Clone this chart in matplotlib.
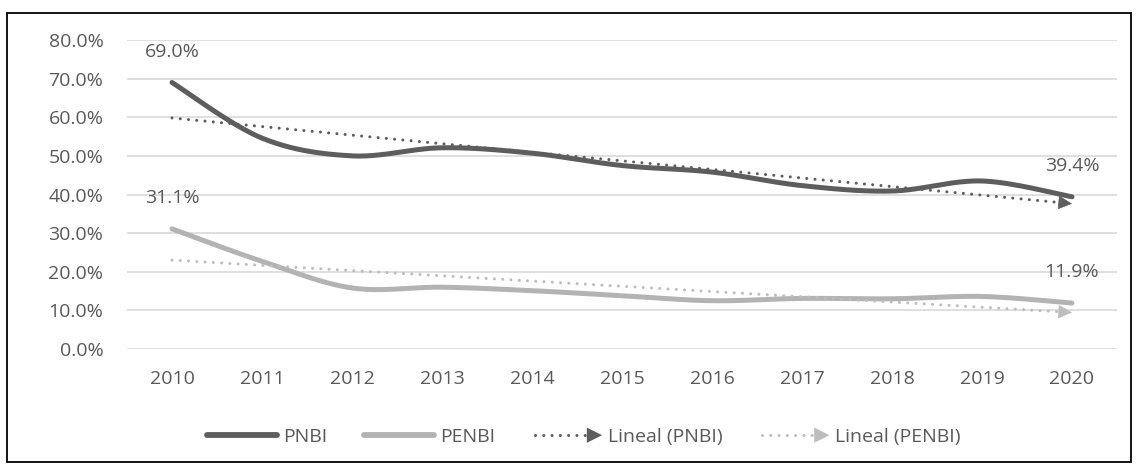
import numpy as np
import matplotlib
matplotlib.use("Agg")
import matplotlib.pyplot as plt
from matplotlib.lines import Line2D
from matplotlib.patches import Polygon, Rectangle
from matplotlib.legend_handler import HandlerBase
from matplotlib.ticker import FuncFormatter

# ---- data ----
years = ["2010", "2011", "2012", "2013", "2014", "2015", "2016", "2017", "2018", "2019", "2020"]
pnbi = [69.0, 54.6, 50.0, 52.1, 50.7, 47.5, 45.8, 42.3, 40.9, 43.5, 39.4]
penbi = [31.1, 22.7, 15.8, 16.0, 15.1, 13.8, 12.5, 13.1, 13.0, 13.6, 11.9]
y_ticks = [0, 10, 20, 30, 40, 50, 60, 70, 80]

DARK = "#5d5d5d"
LIGHT = "#b3b3b3"
LIGHT_TREND = "#bdbdbd"
TEXT = "#595959"
GRID = "#d9d9d9"

plt.rcParams['font.family'] = ['Open Sans', 'DejaVu Sans']
FS = 14


def smooth(xs, ys, n=40):
    """Excel-style smoothed line (Catmull-Rom Bezier)."""
    P = np.column_stack([xs, ys]).astype(float)
    P = np.vstack([P[0], P, P[-1]])
    out = []
    t = np.linspace(0, 1, n)[:, None]
    for i in range(1, len(P) - 2):
        p0, p1, p2, p3 = P[i - 1], P[i], P[i + 1], P[i + 2]
        c1 = p1 + (p2 - p0) / 6
        c2 = p2 - (p3 - p1) / 6
        seg = ((1 - t) ** 3) * p1 + 3 * ((1 - t) ** 2) * t * c1 + 3 * (1 - t) * t ** 2 * c2 + t ** 3 * p2
        out.append(seg if i == 1 else seg[1:])
    out = np.vstack(out)
    return out[:, 0], out[:, 1]


fig = plt.figure(figsize=(11.39, 4.68), dpi=100)
ax = fig.add_axes([127 / 1139, 1 - 349 / 468, (1117 - 127) / 1139, (349 - 40) / 468])

x = np.arange(len(years))
DOT = (0, (0.01, 2.7))

# trend lines (linear regression)
for vals, col in [(pnbi, DARK), (penbi, LIGHT_TREND)]:
    k, b = np.polyfit(x, vals, 1)
    ty = k * x + b
    ax.plot(x[[0, -1]] + np.array([0, -0.08]), [ty[0], ty[-1] - k * 0.08], color=col,
            lw=2.2, linestyle=DOT, dash_capstyle='round', zorder=4)
    ax.annotate('', xy=(x[-1], ty[-1]), xytext=(x[-1] - 0.12, ty[-1] - k * 0.12),
                arrowprops=dict(arrowstyle='-|>,head_length=0.9,head_width=0.45',
                                color=col, lw=0.5, shrinkA=0, shrinkB=0), zorder=4)

# main smoothed lines
for vals, col in [(pnbi, DARK), (penbi, LIGHT)]:
    sx, sy = smooth(x, vals)
    ax.plot(sx, sy, color=col, lw=3.6, solid_capstyle='round', zorder=3)

# data labels
for vals in (pnbi, penbi):
    for i in (0, len(vals) - 1):
        ax.annotate(f"{vals[i]:.1f}%", xy=(x[i], vals[i]), xytext=(0, 22),
                    textcoords='offset points', ha='center', va='center',
                    fontsize=FS, color=TEXT, zorder=5)

ax.set_xlim(-0.5, len(years) - 0.5)
ax.set_ylim(0, 80)
ax.set_yticks(y_ticks)
ax.yaxis.set_major_formatter(FuncFormatter(lambda v, p: f"{v:.1f}%"))
ax.set_xticks(x)
ax.set_xticklabels(years)
ax.tick_params(axis='both', length=0, labelsize=FS, labelcolor=TEXT)
ax.tick_params(axis='y', pad=17)
ax.tick_params(axis='x', pad=15)
ax.grid(axis='y', color=GRID, lw=1.2)
ax.set_axisbelow(True)
for s in ax.spines.values():
    s.set_visible(False)


class HandlerArrowLine(HandlerBase):
    def create_artists(self, legend, orig_handle, xdescent, ydescent, width, height, fontsize, trans):
        y = height / 2 - ydescent
        x0 = -xdescent
        x1 = width - xdescent
        hl = 11
        hw = 5.5
        line = Line2D([x0 + 2, x1 - hl], [y, y], color=orig_handle.get_color(),
                      lw=2.2, linestyle=DOT, dash_capstyle='round')
        head = Polygon([[x1 - hl, y - hw], [x1, y], [x1 - hl, y + hw]], closed=True,
                       facecolor=orig_handle.get_color(), edgecolor='none')
        line.set_transform(trans)
        head.set_transform(trans)
        return [line, head]


h1 = Line2D([], [], color=DARK, lw=4.2, solid_capstyle='round')
h2 = Line2D([], [], color=LIGHT, lw=4.2, solid_capstyle='round')
h3 = Line2D([], [], color=DARK)
h4 = Line2D([], [], color=LIGHT_TREND)
leg = fig.legend([h1, h2, h3, h4], ["PNBI", "PENBI", "Lineal (PNBI)", "Lineal (PENBI)"],
                 loc='center', bbox_to_anchor=(584 / 1139, 1 - 437 / 468), ncol=4,
                 frameon=False, fontsize=FS, labelcolor=TEXT, handlelength=3.6,
                 handletextpad=0.3, columnspacing=1.9,
                 handler_map={h3: HandlerArrowLine(), h4: HandlerArrowLine()})

# outer frame
fig.patches.append(Rectangle((7 / 1139, 1 - 462 / 468), (1131 - 7) / 1139, (462 - 13) / 468,
                             transform=fig.transFigure, fill=False, edgecolor='black', lw=1.3))

fig.savefig("out.png", dpi=100)
